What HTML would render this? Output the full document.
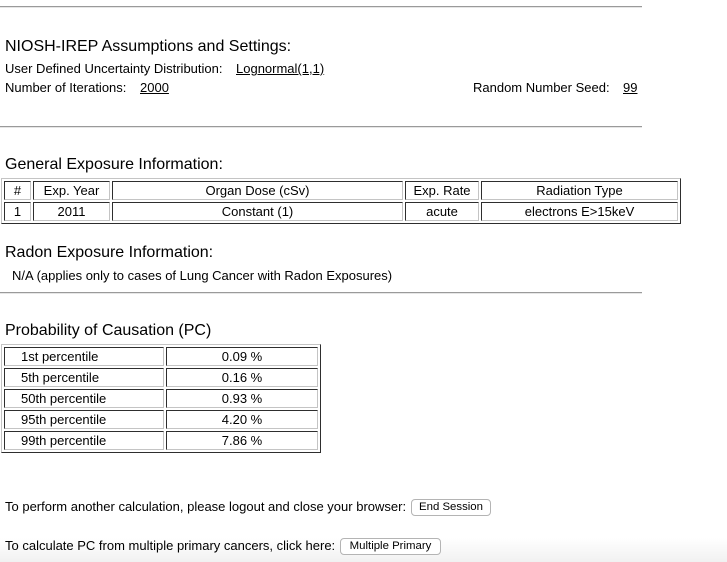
<!DOCTYPE html>
<html><head><meta charset="utf-8">
<style>
html,body{margin:0;padding:0;}
body{width:727px;height:562px;position:relative;overflow:hidden;background:#fff;font-family:"Liberation Sans",Arial,sans-serif;color:#000;}
.t{position:absolute;white-space:nowrap;font-size:13px;line-height:13px;}
.h{position:absolute;white-space:nowrap;font-size:16px;line-height:16px;}
.hr{position:absolute;left:0;width:642px;height:1px;background:#9a9a9a;border-bottom:1px solid #e6e6e6;}
u{text-decoration:underline;}
.outer{position:absolute;box-sizing:border-box;border:1px solid;border-color:#c4c4c4 #2e2e2e #2e2e2e #c4c4c4;}
.c{position:absolute;box-sizing:border-box;border:1px solid;border-color:#2e2e2e #c4c4c4 #c4c4c4 #2e2e2e;font-size:13px;line-height:17px;text-align:center;white-space:nowrap;height:19px;}
.l{text-align:left;padding-left:16px;}
.btn{position:absolute;box-sizing:border-box;border:1px solid #b4b4b4;border-radius:4px;background:#fff;font-size:11.4px;line-height:15px;text-align:center;white-space:nowrap;height:17px;}
.fade{position:absolute;left:0;top:538px;width:727px;height:24px;background:linear-gradient(#ffffff,#f1f1f1);}
</style></head><body>
<div class="fade"></div>
<div class="hr" style="top:6px"></div>
<div class="h" style="left:5px;top:39px">NIOSH-IREP Assumptions and Settings:</div>
<div class="t" style="left:5px;top:62px">User Defined Uncertainty Distribution:</div>
<div class="t" style="left:236px;top:62px"><u>Lognormal(1,1)</u></div>
<div class="t" style="left:5px;top:81px">Number of Iterations:</div>
<div class="t" style="left:140px;top:81px"><u>2000</u></div>
<div class="t" style="left:473px;top:81px">Random Number Seed:</div>
<div class="t" style="left:623px;top:81px"><u>99</u></div>
<div class="hr" style="top:126px"></div>

<div class="h" style="left:5px;top:157px">General Exposure Information:</div>
<div class="outer" style="left:1px;top:178px;width:680px;height:46px"></div>
<div class="c" style="left:4px;top:181px;width:27px">#</div>
<div class="c" style="left:33px;top:181px;width:77px">Exp. Year</div>
<div class="c" style="left:112px;top:181px;width:291px">Organ Dose (cSv)</div>
<div class="c" style="left:405px;top:181px;width:74px">Exp. Rate</div>
<div class="c" style="left:481px;top:181px;width:197px">Radiation Type</div>
<div class="c" style="left:4px;top:202px;width:27px">1</div>
<div class="c" style="left:33px;top:202px;width:77px">2011</div>
<div class="c" style="left:112px;top:202px;width:291px">Constant (1)</div>
<div class="c" style="left:405px;top:202px;width:74px">acute</div>
<div class="c" style="left:481px;top:202px;width:197px">electrons E&gt;15keV</div>

<div class="h" style="left:5px;top:245px">Radon Exposure Information:</div>
<div class="t" style="left:12px;top:269px">N/A (applies only to cases of Lung Cancer with Radon Exposures)</div>
<div class="hr" style="top:292px"></div>

<div class="h" style="left:5px;top:323px">Probability of Causation (PC)</div>
<div class="outer" style="left:1px;top:344px;width:320px;height:109px"></div>
<div class="c l" style="left:4px;top:347px;width:160px">1st percentile</div>
<div class="c" style="left:166px;top:347px;width:152px">0.09 %</div>
<div class="c l" style="left:4px;top:368px;width:160px">5th percentile</div>
<div class="c" style="left:166px;top:368px;width:152px">0.16 %</div>
<div class="c l" style="left:4px;top:389px;width:160px">50th percentile</div>
<div class="c" style="left:166px;top:389px;width:152px">0.93 %</div>
<div class="c l" style="left:4px;top:410px;width:160px">95th percentile</div>
<div class="c" style="left:166px;top:410px;width:152px">4.20 %</div>
<div class="c l" style="left:4px;top:431px;width:160px">99th percentile</div>
<div class="c" style="left:166px;top:431px;width:152px">7.86 %</div>

<div class="t" style="left:5px;top:500px">To perform another calculation, please logout and close your browser:</div>
<div class="btn" style="left:411px;top:499px;width:80px">End Session</div>
<div class="t" style="left:5px;top:539px">To calculate PC from multiple primary cancers, click here:</div>
<div class="btn" style="left:340px;top:538px;width:101px">Multiple Primary</div>
</body></html>
